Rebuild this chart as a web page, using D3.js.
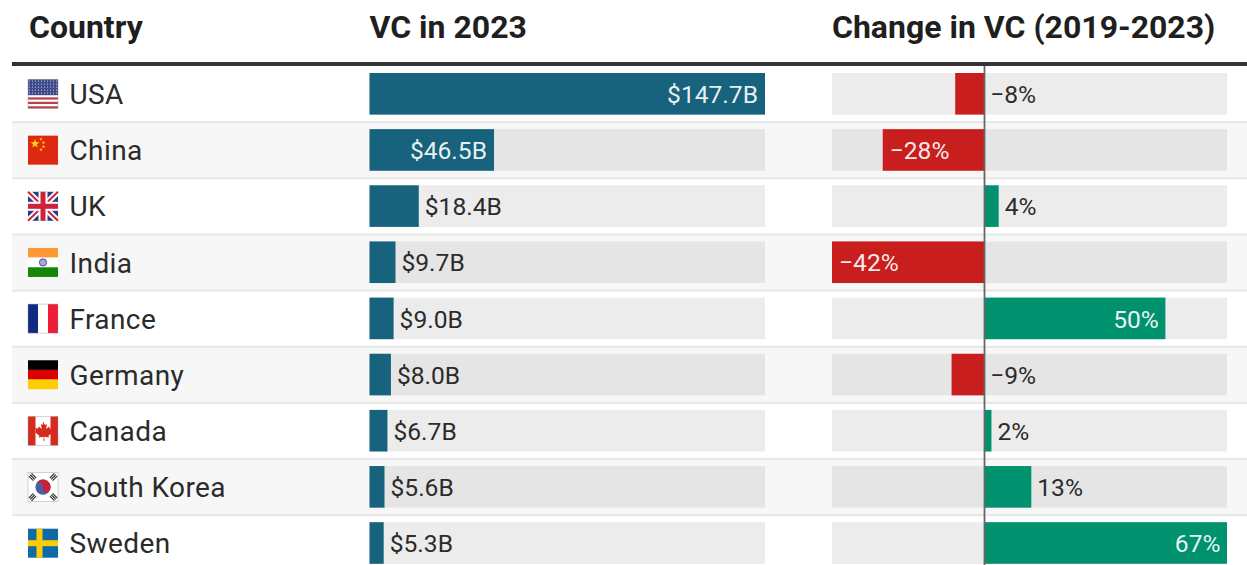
<!DOCTYPE html>
<html><head><meta charset="utf-8">
<script src="https://cdnjs.cloudflare.com/ajax/libs/d3/7.8.5/d3.min.js"></script>
<style>html,body{margin:0;padding:0;background:#fff;overflow:hidden}svg{display:block}text{font-family:Roboto,sans-serif}</style>
</head><body><svg id="c" width="1247" height="565"></svg>
<script>
const countries=["USA","China","UK","India","France","Germany","Canada","South Korea","Sweden"];
const vc2023=[147.7,46.5,18.4,9.7,9.0,8.0,6.7,5.6,5.3];
const change=[-8,-28,4,-42,50,-9,2,13,67];
const headers=["Country","VC in 2023","Change in VC (2019-2023)"];
const W=1247,H=565;
const svg=d3.select("#c");
const y=d3.scaleBand().domain(countries).range([66,66+9*56.15]);
const xV=d3.scaleLinear().domain([0,147.7]).range([369.5,765]);
const xC=d3.scaleLinear().domain([-42,67]).range([832,1227]);
const barPad=7, barH=41.6, TEXT="#2b2b2b";

// rows
const rows=svg.selectAll("g.row").data(countries).join("g").attr("class","row")
  .attr("transform",d=>`translate(0,${y(d)})`);
rows.append("rect").attr("x",12).attr("width",W-12).attr("height",y.bandwidth())
  .attr("fill",(d,i)=>i%2?"#f7f7f7":"#fff");
rows.filter((d,i)=>i>0).append("rect").attr("x",12).attr("width",W-12).attr("y",-1).attr("height",2).attr("fill","#e7e7e7");
rows.append("text").attr("x",69.5).attr("y",28.4).attr("dy","0.35em").attr("font-size",28).attr("letter-spacing",0.4).attr("fill",TEXT).text(d=>d);

// tracks
const track=(i)=>i%2?"#e5e5e5":"#ececec";
rows.append("rect").attr("x",xV.range()[0]).attr("y",barPad).attr("width",xV.range()[1]-xV.range()[0]).attr("height",barH).attr("fill",(d,i)=>track(i));
rows.append("rect").attr("x",xC.range()[0]).attr("y",barPad).attr("width",xC.range()[1]-xC.range()[0]).attr("height",barH).attr("fill",(d,i)=>track(i));

// VC bars
rows.append("rect").attr("x",xV(0)).attr("y",barPad).attr("height",barH)
  .attr("width",(d,i)=>xV(vc2023[i])-xV(0)).attr("fill","#17627c");
rows.append("text").attr("y",28.4).attr("dy","0.35em").attr("font-size",24.6).each(function(d,i){
  const v=vc2023[i], inside=v>30, s=d3.select(this);
  s.attr("x",inside?xV(v)-7:xV(v)+6).attr("text-anchor",inside?"end":"start")
   .attr("fill",inside?"#fff":TEXT).attr("fill-opacity",inside?0.92:1).text("$"+v.toFixed(1)+"B");
});

// change bars
rows.append("rect").attr("y",barPad).attr("height",barH)
  .attr("x",(d,i)=>Math.min(xC(0),xC(change[i])))
  .attr("width",(d,i)=>Math.abs(xC(change[i])-xC(0)))
  .attr("fill",(d,i)=>change[i]<0?"#c81e1e":"#00916f");
rows.append("text").attr("y",28.4).attr("dy","0.35em").attr("font-size",24.6).each(function(d,i){
  const v=change[i], inside=Math.abs(v)>20, s=d3.select(this);
  const lab=(v<0?"\u2212":"")+Math.abs(v)+"%";
  s.attr("fill",inside?"#fff":TEXT).attr("fill-opacity",inside?0.92:1).text(lab);
  if(inside){ if(v<0) s.attr("x",xC(v)+7); else s.attr("x",xC(v)-6.5).attr("text-anchor","end"); }
  else s.attr("x",Math.max(xC(v),xC(0))+6);
});

// zero line
svg.append("line").attr("x1",xC(0)+.3).attr("x2",xC(0)+.3).attr("y1",66).attr("y2",H).attr("stroke","#666").attr("stroke-width",1.8);

// header
svg.append("rect").attr("x",12).attr("y",62).attr("width",W-12).attr("height",4).attr("fill","#333");
const hx=[29,369.5,832];
svg.selectAll("text.h").data(headers).join("text").attr("class","h").attr("x",(d,i)=>hx[i]).attr("y",38)
  .attr("font-size",32).attr("font-weight",700).attr("fill","#1f1f1f").text(d=>d);

// flags
const FW=30,FH=29;
const flagDraw={
 USA(g){g.append("rect").attr("width",FW).attr("height",FH).attr("fill","#fff");
   d3.range(0,13,2).forEach(i=>g.append("rect").attr("y",i*FH/13).attr("width",FW).attr("height",FH/13).attr("fill","#b5414f"));
   g.append("rect").attr("width",FW).attr("height",FH*7/13).attr("fill","#3f4a8c");
   d3.range(0,5).forEach(r=>d3.range(0,10).forEach(c=>g.append("circle").attr("cx",1.5+c*3).attr("cy",1.6+r*3).attr("r",.55).attr("fill","#c9cde6")));},
 China(g){g.append("rect").attr("width",FW).attr("height",FH).attr("fill","#de2910");
   g.append("path").attr("d",d3.symbol(d3.symbolStar,26)()).attr("transform","translate(7,8)").attr("fill","#ffde00");
   [[13,3.5],[15.5,7],[15.5,11],[13,14]].forEach(p=>g.append("path").attr("d",d3.symbol(d3.symbolStar,4)()).attr("transform",`translate(${p})`).attr("fill","#ffde00"));},
 UK(g){g.append("rect").attr("width",FW).attr("height",FH).attr("fill","#2b3d85");
   const l=(a,b,c,w)=>g.append("line").attr("x1",a[0]).attr("y1",a[1]).attr("x2",b[0]).attr("y2",b[1]).attr("stroke",c).attr("stroke-width",w);
   l([0,0],[FW,FH],"#fff",6);l([FW,0],[0,FH],"#fff",6);l([0,0],[FW,FH],"#d0213b",2);l([FW,0],[0,FH],"#d0213b",2);
   l([FW/2,0],[FW/2,FH],"#fff",9);l([0,FH/2],[FW,FH/2],"#fff",9);l([FW/2,0],[FW/2,FH],"#d0213b",5);l([0,FH/2],[FW,FH/2],"#d0213b",5);},
 India(g){[["#ff9933",0],["#fff",1],["#138808",2]].forEach(([c,i])=>g.append("rect").attr("y",i*FH/3).attr("width",FW).attr("height",FH/3).attr("fill",c));
   g.append("circle").attr("cx",FW/2).attr("cy",FH/2).attr("r",3.6).attr("fill","#a9abd6").attr("stroke","#3a3f96").attr("stroke-width",.9);},
 France(g){[["#0f2a80",0],["#fff",1],["#ee1c37",2]].forEach(([c,i])=>g.append("rect").attr("x",i*FW/3).attr("width",FW/3).attr("height",FH).attr("fill",c));},
 Germany(g){[["#000",0],["#dd0000",1],["#ffce00",2]].forEach(([c,i])=>g.append("rect").attr("y",i*FH/3).attr("width",FW).attr("height",FH/3).attr("fill",c));},
 Canada(g){g.append("rect").attr("width",FW).attr("height",FH).attr("fill","#fff");
   g.append("rect").attr("width",7.5).attr("height",FH).attr("fill","#d52b1e");g.append("rect").attr("x",FW-7.5).attr("width",7.5).attr("height",FH).attr("fill","#d52b1e");
   g.append("path").attr("d","M15 5l2 3.5 2-1-1 5 3-2.5.8 2 3-.5-1 3.2 1.2.8-4.5 3.8.5 1.7-4.8-.6.2 4.1h-1l.2-4.1-4.8.6.5-1.7-4.5-3.8 1.2-.8-1-3.2 3 .5.8-2 3 2.5-1-5 2 1z").attr("fill","#d52b1e");},
 "South Korea"(g){g.append("rect").attr("width",FW).attr("height",FH).attr("fill","#fff");
   const cx=FW/2,cy=FH/2,r=7.6;
   g.append("circle").attr("cx",cx).attr("cy",cy).attr("r",r).attr("fill","#4a5fa8");
   g.append("path").attr("transform",`translate(${cx},${cy}) rotate(15)`).attr("d",`M${-r} 0A${r} ${r} 0 0 1 ${r} 0A${r/2} ${r/2} 0 0 1 0 0A${r/2} ${r/2} 0 0 0 ${-r} 0Z`).attr("fill","#cd2031");
   [[4.5,4.5,-45+90],[25.5,4.5,45+90],[4.5,24.5,45+90],[25.5,24.5,-45+90]].forEach(p=>d3.range(-1,2).forEach(k=>
     g.append("rect").attr("x",-3.2).attr("width",6.4).attr("y",k*1.9-.6).attr("height",1.2).attr("fill","#333").attr("transform",`translate(${p[0]},${p[1]}) rotate(${p[2]})`)));},
 Sweden(g){g.append("rect").attr("width",FW).attr("height",FH).attr("fill","#0f6aa8");
   g.append("rect").attr("x",8.5).attr("width",6).attr("height",FH).attr("fill","#fecc02");
   g.append("rect").attr("y",11.5).attr("width",FW).attr("height",6).attr("fill","#fecc02");}
};
rows.each(function(d){
  const g=d3.select(this).append("g").attr("transform","translate(28,13.5)");
  flagDraw[d](g);
  if(d==="USA"||d==="South Korea"||d==="Canada"||d==="France")
    g.append("rect").attr("width",FW).attr("height",FH).attr("fill","none").attr("stroke","#999").attr("stroke-opacity",.6).attr("stroke-width",.7);
});
</script></body></html>
